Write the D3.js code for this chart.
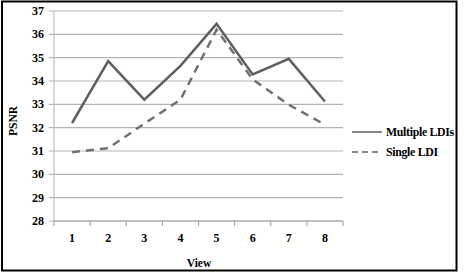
<!DOCTYPE html>
<html><head><meta charset="utf-8">
<script src="https://cdn.jsdelivr.net/npm/d3@7"></script>
<style>body{margin:0;background:#fff}svg{display:block}</style>
</head><body>
<script>
const views = ["1","2","3","4","5","6","7","8"];
const multipleLDIs = [32.2, 34.85, 33.2, 34.65, 36.45, 34.28, 34.95, 33.12];
const singleLDI = [30.95, 31.12, 32.17, 33.2, 36.2, 34.07, 32.98, 32.13];
const yTicks = [28,29,30,31,32,33,34,35,36,37];
const seriesNames = ["Multiple LDIs","Single LDI"];

const W=463,H=276;
const svg=d3.select("body").append("svg").attr("width",W).attr("height",H)
 .attr("font-family","'Liberation Serif', 'Times New Roman', Tinos, 'DejaVu Serif', serif").attr("font-weight","bold");
svg.append("rect").attr("x",2).attr("y",1.5).attr("width",454.5).attr("height",269).attr("fill","none").attr("stroke","#000").attr("stroke-width",2);

const x=d3.scaleBand().domain(views).range([54,343]);
const y=d3.scaleLinear().domain([28,37]).range([221,11]);

const grid=svg.append("g");
grid.selectAll("line").data(yTicks).join("line")
 .attr("x1",49).attr("x2",343).attr("y1",d=>y(d)).attr("y2",d=>y(d))
 .attr("stroke","#b3b3b3").attr("stroke-width",1.2);
svg.append("line").attr("x1",54).attr("x2",54).attr("y1",y(37)).attr("y2",y(28)).attr("stroke","#bfbfbf").attr("stroke-width",1.2);
svg.append("line").attr("x1",54).attr("x2",343).attr("y1",y(28)).attr("y2",y(28)).attr("stroke","#a6a6a6").attr("stroke-width",1.2);
const bounds=views.map(v=>x(v)).concat([343]);
svg.selectAll(".xt").data(bounds).join("line").attr("class","xt")
 .attr("x1",d=>d).attr("x2",d=>d).attr("y1",221).attr("y2",226).attr("stroke","#a6a6a6").attr("stroke-width",1.2);

svg.selectAll(".yl").data(yTicks).join("text").attr("class","yl")
 .attr("x",44).attr("y",d=>y(d)+4).attr("text-anchor","end").attr("font-size",12).text(d=>d);
svg.selectAll(".xl").data(views).join("text").attr("class","xl")
 .attr("x",d=>x(d)+x.bandwidth()/2).attr("y",242).attr("text-anchor","middle").attr("font-size",12).text(d=>d);

svg.append("text").attr("transform","translate(17,121) rotate(-90)").attr("text-anchor","middle").attr("font-size",11.5).text("PSNR");
svg.append("text").attr("x",199).attr("y",267).attr("text-anchor","middle").attr("font-size",11.5).text("View");

const line=d3.line().x((d,i)=>x(views[i])+x.bandwidth()/2).y(d=>y(d));
svg.append("path").datum(multipleLDIs).attr("d",line).attr("fill","none").attr("stroke","#5f5f5f").attr("stroke-width",2.5);
svg.append("path").datum(singleLDI).attr("d",line).attr("fill","none").attr("stroke","#707070").attr("stroke-width",2.5).attr("stroke-dasharray","8,6");

const leg=[{n:seriesNames[0],dash:null,y:132},{n:seriesNames[1],dash:"6,4",y:152}];
leg.forEach(l=>{
 svg.append("line").attr("x1",352).attr("x2",382).attr("y1",l.y).attr("y2",l.y)
  .attr("stroke","#5f5f5f").attr("stroke-width",1.5).attr("stroke-dasharray",l.dash);
 svg.append("text").attr("x",386).attr("y",l.y+4).attr("font-size",11.8).attr("letter-spacing",-0.3).text(l.n);
});
</script>
</body></html>
